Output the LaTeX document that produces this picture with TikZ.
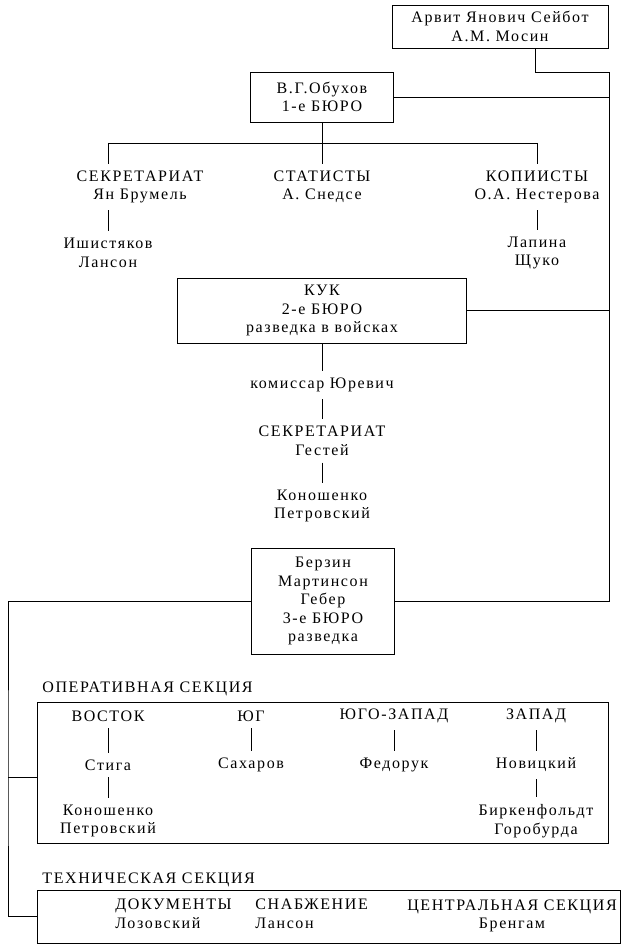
\documentclass[tikz,border=0pt]{standalone}
\usepackage{fontspec}
\setmainfont[LetterSpace=10]{Liberation Serif}

\begin{document}
\begin{tikzpicture}[x=1pt, y=-1pt, line width=0.9pt,
    font=\fontsize{16}{18.5}\selectfont,
    box/.style={rectangle, draw, align=center, inner sep=0pt},
    txt/.style={align=center, inner sep=0pt, outer sep=7pt},
    sect/.style={anchor=west, inner sep=0pt}]

\useasboundingbox (0,0) rectangle (636,944);

% bureaus
\node[box, minimum width=216, minimum height=43]
(head) at (500, 26.5) {Арвит Янович Сейбот\\А.М. Мосин};

\node[box, minimum width=143, minimum height=50]
(obuhov) at (322, 97) {В.Г.Обухов\\1-е БЮРО};

\node[box, minimum width=289, minimum height=65]
(kuk) at (322, 310.5) {КУК\\2-е БЮРО\\разведка в войсках};

\node[box, minimum width=143, minimum height=106]
(berzin) at (323, 601) {Берзин\\Мартинсон\\Гебер\\3-е БЮРО\\разведка};

% 1-e bureau
\node[txt] (sekr1) at (140, 187) {СЕКРЕТАРИАТ\\Ян Брумель};
\node[txt] (stat) at (322, 187) {СТАТИСТЫ\\А. Снедсе};
\node[txt] (kop) at (537, 187) {КОПИИСТЫ\\О.А. Нестерова};
\node[txt] (ish) at (108, 253) {Ишистяков\\Лансон};
\node[txt] (lap) at (537, 253) {Лапина\\Щуко};

% 2-e bureau
\node[txt] (kom) at (322, 385) {комиссар Юревич};
\node[txt] (sekr2) at (322, 441) {СЕКРЕТАРИАТ\\Гестей};
\node[txt] (kon) at (322, 506) {Коношенко\\Петровский};

% operative section
\node[sect] (oplabel) at (42, 689) {ОПЕРАТИВНАЯ СЕКЦИЯ};
\node[box, minimum width=571, minimum height=141] (opbox) at (322.5, 772.5) {};
\node[txt] (vostok) at (108, 716) {ВОСТОК};
\node[txt] (yug) at (251, 716) {ЮГ};
\node[txt] (yugz) at (394, 716) {ЮГО-ЗАПАД};
\node[txt] (zapad) at (536, 716) {ЗАПАД};
\node[txt] (stiga) at (108, 765) {Стига};
\node[txt] (sakh) at (251, 765) {Сахаров};
\node[txt] (fed) at (394, 765) {Федорук};
\node[txt] (nov) at (536, 765) {Новицкий};
\node[txt] (kon2) at (108, 821) {Коношенко\\Петровский};
\node[txt] (birk) at (536, 821) {Биркенфольдт\\Горобурда};

% technical section
\node[sect] (techlabel) at (42, 880) {ТЕХНИЧЕСКАЯ СЕКЦИЯ};
\node[box, minimum width=583, minimum height=53] (techbox) at (328.5, 916.5) {};
\node[sect, align=left] (dok) at (115, 914) {ДОКУМЕНТЫ\\Лозовский};
\node[sect, align=left] (snab) at (255, 914) {СНАБЖЕНИЕ\\Лансон};
\node[txt] (centr) at (512, 916) {ЦЕНТРАЛЬНАЯ СЕКЦИЯ\\Бренгам};

\coordinate (rgt) at (609, 72);
\coordinate (br) at (322, 143);
\coordinate (lft) at (8, 777);

% links
\draw ([xshift=35]head.south) |- (rgt) |- (berzin.east);
\draw (obuhov.east) -- (obuhov.east -| rgt);
\draw (kuk.east) -- (kuk.east -| rgt);
\draw (obuhov.south) -- (stat.north);
\draw (ish |- br) -- (lap |- br);
\draw (ish |- br) -- (ish |- sekr1.north);
\draw (lap |- br) -- (kop.north);
\draw (ish |- sekr1.south) -- (ish);
\draw (kop) -- (lap);

\draw (kuk) -- (kom);
\draw (kom) -- (sekr2);
\draw (sekr2) -- (kon);

\draw (berzin.west) -| (lft) |- (techbox.west);
\draw (lft) -- (opbox.west |- lft);

\draw (vostok) -- (stiga);
\draw (stiga) -- (kon2);
\draw (yug) -- (sakh);
\draw (yugz) -- (fed);
\draw (zapad) -- (nov);
\draw (nov) -- (birk);

\end{tikzpicture}
\end{document}
